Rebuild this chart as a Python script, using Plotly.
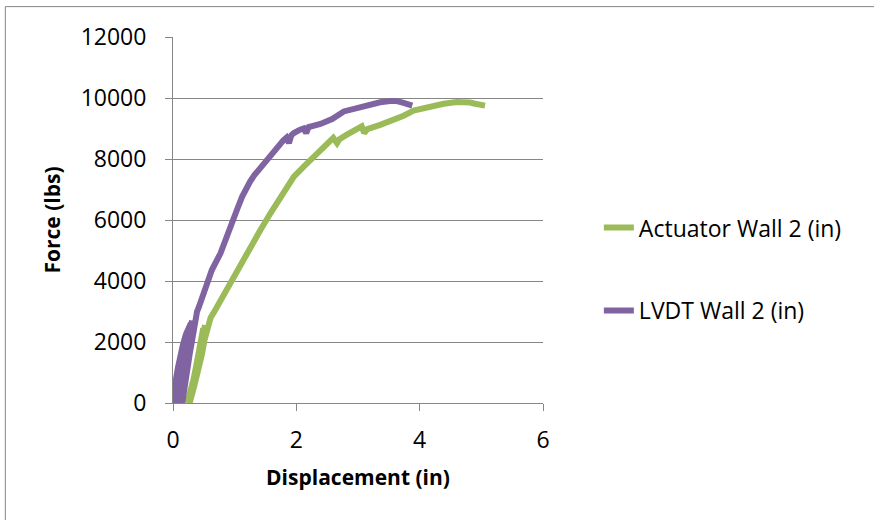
import plotly.graph_objects as go

# ---- data ----
actuator_x = [0.23, 0.28, 0.33, 0.38, 0.42, 0.46, 0.49,
              0.44, 0.38, 0.31, 0.25,
              0.30, 0.36, 0.42, 0.47, 0.52,
              0.46, 0.39, 0.33, 0.27,
              0.35, 0.43, 0.47, 0.51, 0.55, 0.58, 0.61, 0.66,
              0.72, 0.80, 0.90, 0.98, 1.10, 1.20, 1.30, 1.42, 1.58, 1.74, 1.96,
              2.12, 2.28, 2.44, 2.60, 2.66, 2.70, 2.82, 2.98, 3.06, 3.10, 3.15,
              3.36, 3.58, 3.74, 3.90, 4.12, 4.39, 4.60, 4.77, 4.82, 4.88, 5.06]
actuator_y = [0, 350, 750, 1250, 1730, 2100, 2450,
              1900, 1200, 500, 0,
              400, 1000, 1650, 2150, 2550,
              1900, 1200, 600, 0,
              600, 1180, 1600, 2060, 2400, 2650, 2800, 2960,
              3180, 3480, 3830, 4120, 4560, 4940, 5290, 5680, 6220, 6760, 7420,
              7750, 8080, 8410, 8690, 8520, 8650, 8800, 8960, 9070, 8850, 8980,
              9120, 9270, 9420, 9590, 9700, 9810, 9870, 9890, 9850, 9820, 9750]

lvdt_x = [0.04, 0.05, 0.08, 0.11, 0.16, 0.21, 0.25, 0.29,
          0.25, 0.19, 0.14, 0.10,
          0.12, 0.17, 0.22, 0.27, 0.31,
          0.28, 0.23, 0.18, 0.15,
          0.17, 0.22, 0.27, 0.31, 0.34, 0.35, 0.37, 0.39, 0.42,
          0.50, 0.63, 0.77, 0.88, 0.98, 1.05, 1.12, 1.18, 1.25, 1.32, 1.39,
          1.52, 1.66, 1.79,
          1.84, 1.88, 1.92, 1.96, 2.06, 2.12, 2.16, 2.20, 2.39, 2.58, 2.77,
          2.93, 3.15, 3.36, 3.52, 3.63, 3.74, 3.88]
lvdt_y = [0, 800, 1150, 1500, 1900, 2250, 2450, 2620,
          2100, 1400, 700, 0,
          500, 1150, 1750, 2300, 2700,
          2000, 1300, 600, 0,
          300, 1000, 1600, 2060, 2400, 2650, 2850, 3000, 3150,
          3590, 4360, 4910, 5450, 6000, 6400, 6760, 7030, 7260, 7470, 7650,
          7970, 8280, 8610,
          8700, 8520, 8780, 8850, 8960, 9000, 8850, 9050, 9150, 9310, 9560,
          9650, 9750, 9860, 9900, 9900, 9840, 9750]

series_names = ["Actuator Wall 2 (in)", "LVDT Wall 2 (in)"]
x_ticks = [0, 2, 4, 6]
y_ticks = [0, 2000, 4000, 6000, 8000, 10000, 12000]

GREEN = "#9BBB59"
PURPLE = "#8064A2"
GRID = "#868686"
FONT = "Open Sans"
tick_font = dict(family=FONT, size=23, color="black")

fig = go.Figure()
fig.add_trace(go.Scatter(x=actuator_x, y=actuator_y, mode="lines", name=series_names[0],
                         legendgroup="a",
                         line=dict(color=GREEN, width=6)))
fig.add_trace(go.Scatter(x=lvdt_x, y=lvdt_y, mode="lines", name=series_names[1],
                         legendgroup="b",
                         line=dict(color=PURPLE, width=6)))

frame = dict(color=GRID, width=1)
fig.update_layout(
    width=874, height=520,
    margin=dict(l=173, r=331, t=37, b=117),
    paper_bgcolor="white", plot_bgcolor="white",
    font=dict(family=FONT, size=23, color="black"),
    showlegend=True,
    legend=dict(x=1.151, xanchor="left", y=0.538, yanchor="top",
                tracegroupgap=50, font=dict(family=FONT, size=23, color="black"),
                bgcolor="rgba(0,0,0,0)"),
    shapes=[
        dict(type="line", xref="paper", yref="paper",
             x0=-0.4532, x1=-0.4532, y0=-0.45, y1=1.083, line=frame, layer="below"),
        dict(type="line", xref="paper", yref="paper",
             x0=-0.4532, x1=2.8, y0=1.083, y1=1.083, line=frame, layer="below"),
    ],
)
fig.update_xaxes(range=[0, 6], tickvals=x_ticks, tickformat="d", tickfont=tick_font,
                 showgrid=False, zeroline=False,
                 showline=True, linecolor=GRID, linewidth=1,
                 ticks="outside", ticklen=7, tickcolor=GRID, tickwidth=1,
                 ticklabelstandoff=9,
                 title=dict(text="<b>Displacement (in)</b>",
                            font=dict(family=FONT, size=21, color="black"), standoff=16))
fig.update_yaxes(range=[0, 12000], tickvals=y_ticks, tickformat="d", tickfont=tick_font,
                 showgrid=True, gridcolor=GRID, gridwidth=1, zeroline=False,
                 showline=True, linecolor=GRID, linewidth=1,
                 ticks="outside", ticklen=7, tickcolor=GRID, tickwidth=1,
                 ticklabelstandoff=14,
                 title=dict(text="<b>Force (lbs)</b>",
                            font=dict(family=FONT, size=21, color="black"), standoff=14))

fig.write_html("out.html")
